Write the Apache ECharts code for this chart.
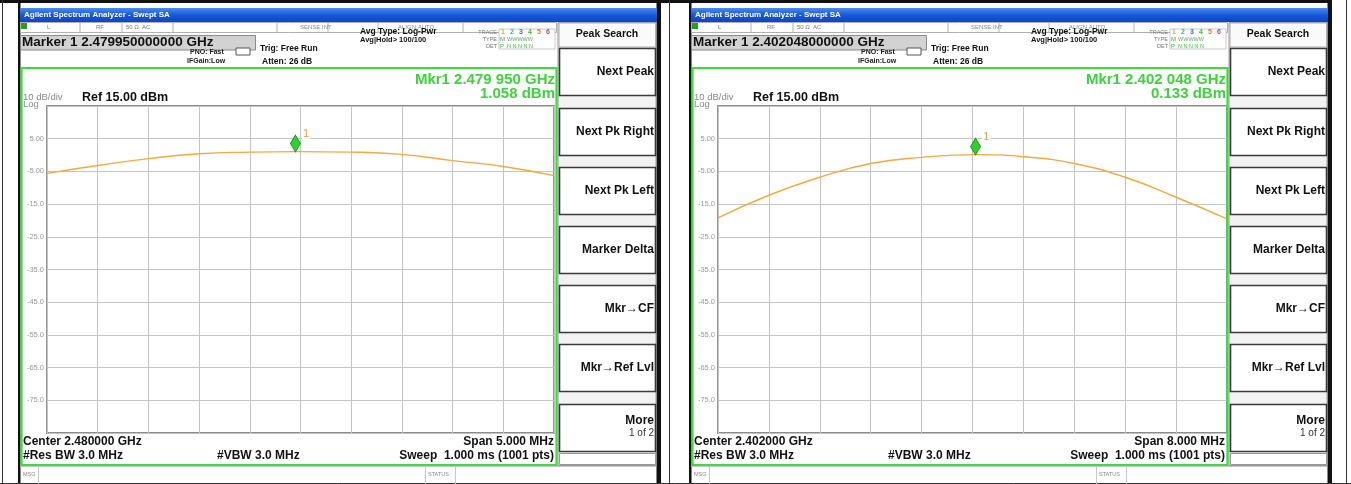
<!DOCTYPE html>
<html><head><meta charset="utf-8">
<script src="https://cdn.jsdelivr.net/npm/echarts@6/dist/echarts.min.js"></script>
<style>html,body{margin:0;padding:0;background:#fff}#c{width:1351px;height:484px}</style>
</head><body><div id="c"></div>
<script>
// ---- data ----
const REF_LEVEL = 15;            // dBm (top of screen)
const DB_PER_DIV = 10;
const leftOffsetsMHz = [-2.5, -2.0, -1.5, -1.0, -0.5, -0.05, 0.5, 1.0, 1.5, 2.0, 2.5];
const leftLevels     = [-5.6, -3.2, -1.1, 0.4, 0.9, 1.058, 0.9, 0.2, -1.7, -3.5, -6.3];
const leftMarker = [-0.05, 1.058];
const rightOffsetsMHz = [-4.0, -3.2, -2.4, -1.6, -0.8, 0.048, 0.8, 1.6, 2.4, 3.2, 4.0];
const rightLevels     = [-19.2, -12.3, -6.8, -2.6, -0.7, 0.133, -0.5, -2.6, -6.8, -12.9, -19.5];
const rightMarker = [0.048, 0.133];
const leftSpanMHz = 5, rightSpanMHz = 8;
const leftTexts = {marker:'Marker 1 2.479950000000 GHz', mkr1:'Mkr1 2.479 950 GHz', mkr2:'1.058 dBm', center:'Center 2.480000 GHz', span:'Span 5.000 MHz'};
const rightTexts = {marker:'Marker 1 2.402048000000 GHz', mkr1:'Mkr1 2.402 048 GHz', mkr2:'0.133 dBm', center:'Center 2.402000 GHz', span:'Span 8.000 MHz'};
const softkeys = ['Next Peak', 'Next Pk Right', 'Next Pk Left', 'Marker Delta', 'Mkr\u2192CF', 'Mkr\u2192Ref Lvl', 'More'];

// ---- helpers ----
const FF = '"Liberation Sans", Arial, sans-serif';
function R(x,y,w,h,fill,stroke,lw,z){return {type:'rect',silent:true,z:z||1,shape:{x:x,y:y,width:w,height:h},style:{fill:fill||'none',stroke:stroke||null,lineWidth:lw||0}};}
function Ln(x1,y1,x2,y2,stroke,lw,z){return {type:'line',silent:true,z:z||2,shape:{x1:x1,y1:y1,x2:x2,y2:y2},style:{stroke:stroke,lineWidth:lw||1}};}
function T(x,y,text,font,fill,align,z){return {type:'text',silent:true,z:z||5,x:x,y:y,style:{text:text,font:font,fill:fill,align:align||'left',verticalAlign:'middle'}};}

function panel(dx, t){
  const g = [];
  // screenshot frame
  g.push(R(dx+18,0,2.5,484,'#111'));
  g.push(R(dx+656.5,0,4.5,484,'#111'));
  // title bar
  g.push({type:'rect',silent:true,z:1,shape:{x:dx+20,y:8,width:637,height:14},style:{fill:new echarts.graphic.LinearGradient(0,0,0,1,[{offset:0,color:'#4a8cf0'},{offset:0.5,color:'#1857d8'},{offset:1,color:'#0d45c4'}])}});
  g.push(T(dx+24,15,'Agilent Spectrum Analyzer - Swept SA','bold 8px '+FF,'#fff'));
  // status row
  g.push(R(dx+20.5,22.5,536,10,'#fff','#b0b0b0',1));
  g.push(R(dx+21,23,6,6,'#2a9a2a'));
  [80,122,173,277,328,378,463].forEach(function(x){g.push(Ln(dx+x,23,dx+x,32,'#b0b0b0',1));});
  g.push(T(dx+47,27.5,'L','6px '+FF,'#777'));
  g.push(T(dx+96,27.5,'RF','6px '+FF,'#777'));
  g.push(T(dx+126,27.5,'50 \u03a9','6px '+FF,'#777'));
  g.push(T(dx+142,27.5,'AC','6px '+FF,'#777'));
  g.push(T(dx+300,27.5,'SENSE:INT','6px '+FF,'#888'));
  g.push(T(dx+398,27.5,'ALIGN AUTO','6px '+FF,'#888'));
  // marker box
  g.push(R(dx+20.5,35.5,235,14.5,'#d2d2d2','#8a8a8a',1));
  g.push(T(dx+22,42.5,t.marker,'bold 13.5px '+FF,'#111'));
  g.push(T(dx+190,52,'PNO: Fast','bold 7px '+FF,'#222'));
  g.push(T(dx+187,61.5,'IFGain:Low','bold 7px '+FF,'#222'));
  g.push(R(dx+236,48,14,7,'#fff','#555',1));
  g.push(T(dx+260,49,'Trig: Free Run','bold 8.5px '+FF,'#111'));
  g.push(T(dx+262,61.5,'Atten: 26 dB','bold 8.5px '+FF,'#111'));
  g.push(T(dx+360,32,'Avg Type: Log-Pwr','bold 8.5px '+FF,'#111'));
  g.push(T(dx+360,39.5,'Avg|Hold> 100/100','bold 7.5px '+FF,'#111'));
  g.push(T(dx+497,32,'TRACE','5.5px '+FF,'#777','right'));
  g.push(T(dx+497,39,'TYPE','5.5px '+FF,'#777','right'));
  g.push(T(dx+497,46,'DET','5.5px '+FF,'#777','right'));
  g.push(R(dx+499,29,56,20,'#fff','#bbb',0.8));
  const tc=['#c8c800','#22b8c8','#3a6ae0','#3bc23b','#f07030','#a040d0'];
  for(let i=0;i<6;i++){
    g.push(T(dx+503+i*9,32.5,String(i+1),'bold 7px '+FF,tc[i],'center'));
  }
  g.push(T(dx+500,39.5,'M','6px '+FF,'#4a4','left'));
  g.push(T(dx+507,39.5,'WWWWW','5.5px '+FF,'#6a6','left'));
  g.push(T(dx+500,46,'P','6px '+FF,'#4a4','left'));
  g.push(T(dx+507,46,'N N N N N','5.5px '+FF,'#3c3','left'));
  // green box
  g.push(R(dx+21.5,68,535,397,'none','#3ddc3d',2.2,3));
  g.push(T(dx+555,80,t.mkr1,'bold 15px '+FF,'#3cd43c','right'));
  g.push(T(dx+555,93.5,t.mkr2,'bold 15px '+FF,'#3cd43c','right'));
  g.push(T(dx+23,97.5,'10 dB/div','9.5px '+FF,'#888'));
  g.push(T(dx+82,97.5,'Ref 15.00 dBm','bold 12.5px '+FF,'#111'));
  g.push(T(dx+23,104.5,'Log','9.5px '+FF,'#888'));
  // bottom annotations
  g.push(T(dx+23,442,t.center,'bold 12px '+FF,'#111'));
  g.push(T(dx+23,455.5,'#Res BW 3.0 MHz','bold 12px '+FF,'#111'));
  g.push(T(dx+217,455.5,'#VBW 3.0 MHz','bold 12px '+FF,'#111'));
  g.push(T(dx+554,442,t.span,'bold 12px '+FF,'#111','right'));
  g.push(T(dx+554,455.5,'Sweep  1.000 ms (1001 pts)','bold 12px '+FF,'#111','right'));
  // message bar
  g.push(Ln(dx+20,466.5,dx+656,466.5,'#c8c8c8',1));
  g.push(Ln(dx+38.5,467,dx+38.5,484,'#c8c8c8',1));
  g.push(Ln(dx+425.5,467,dx+425.5,484,'#c8c8c8',1));
  g.push(Ln(dx+455.5,467,dx+455.5,484,'#c8c8c8',1));
  g.push(T(dx+23,474,'MSG','5.5px '+FF,'#888'));
  g.push(T(dx+428,474,'STATUS','5.5px '+FF,'#888'));
  // softkeys
  g.push(R(dx+558,22.5,98,443,'#f2f2f2','#9a9a9a',1));
  g.push(R(dx+559,23,96.5,24,'#fafafa','#b0b0b0',1));
  g.push(T(dx+607,34.5,'Peak Search','bold 10.5px '+FF,'#111','center'));
  const tops=[48,108,167,226,285,344,404];
  tops.forEach(function(y,i){
    g.push(R(dx+559.5,y+0.5,96,47,'#fff','#3a3a3a',1.6));
    if(i===6){
      g.push(T(dx+654,y+17,softkeys[i],'bold 12px '+FF,'#111','right'));
      g.push(T(dx+654,y+29,'1 of 2','10px '+FF,'#333','right'));
    } else {
      g.push(T(dx+654,y+24,softkeys[i],'bold 12px '+FF,'#111','right'));
    }
  });
  g.push(R(dx+559.5,453.5,96,11,'#fff','#9a9a9a',1));
  return g;
}

const DX = 671;
const graphics = [];
// table borders
graphics.push(R(0,0,1331,3,'#111'));
graphics.push(Ln(2.5,0,2.5,484,'#333',1));
graphics.push(Ln(669.5,0,669.5,484,'#333',1));
graphics.push(Ln(1346.5,0,1346.5,484,'#333',1));
graphics.push(Ln(0,483.5,1351,483.5,'#333',1));
panel(0,leftTexts).forEach(function(e){graphics.push(e);});
panel(DX,rightTexts).forEach(function(e){graphics.push(e);});

function fmtTick(v){
  if(v===0 || v===-100) return '';
  const d = v + REF_LEVEL;
  return Math.abs(d) < 10 ? d.toFixed(2) : d.toFixed(1);
}
function yAxisCfg(idx){
  return {gridIndex:idx,type:'value',min:-100,max:0,interval:DB_PER_DIV,
    axisLine:{show:false},axisTick:{show:false},
    axisLabel:{formatter:fmtTick,fontSize:7.5,color:'#9a9a9a',margin:3,fontFamily:FF},
    splitLine:{lineStyle:{color:'#c4c4c4',width:1}}};
}
function xAxisCfg(idx,span){
  return {gridIndex:idx,type:'value',min:-span/2,max:span/2,interval:span/10,
    axisLine:{show:false},axisTick:{show:false},axisLabel:{show:false},
    splitLine:{lineStyle:{color:'#c4c4c4',width:1}}};
}
function toRel(xs,ys){return xs.map(function(x,i){return [x, ys[i]-REF_LEVEL];});}
function traceSeries(idx,xs,ys,mk){
  return {type:'line',xAxisIndex:idx,yAxisIndex:idx,data:toRel(xs,ys),smooth:0.5,showSymbol:false,
    lineStyle:{color:'#f2aa3c',width:1.4},silent:true,z:3,
    markPoint:{symbol:'diamond',symbolSize:[10,17],symbolOffset:[0,-8],silent:true,
      itemStyle:{color:'#2fd12f',borderColor:'#158a15',borderWidth:0.8},
      label:{show:true,formatter:'1',position:[12,-6],color:'#f0a020',fontSize:11,fontFamily:FF,backgroundColor:'#fff',padding:[0,1]},
      data:[{coord:[mk[0],mk[1]-REF_LEVEL]}]}};
}

const chart = echarts.init(document.getElementById('c'));
chart.setOption({
  animation:false,
  backgroundColor:'#fff',
  grid:[
    {left:47,top:106,width:507,height:327,show:true,borderColor:'#8c8c8c',borderWidth:1.8,backgroundColor:'transparent'},
    {left:47+DX,top:106,width:509,height:327,show:true,borderColor:'#8c8c8c',borderWidth:1.8,backgroundColor:'transparent'}
  ],
  xAxis:[xAxisCfg(0,leftSpanMHz),xAxisCfg(1,rightSpanMHz)],
  yAxis:[yAxisCfg(0),yAxisCfg(1)],
  series:[traceSeries(0,leftOffsetsMHz,leftLevels,leftMarker),traceSeries(1,rightOffsetsMHz,rightLevels,rightMarker)],
  graphic:{elements:graphics}
});
</script></body></html>
